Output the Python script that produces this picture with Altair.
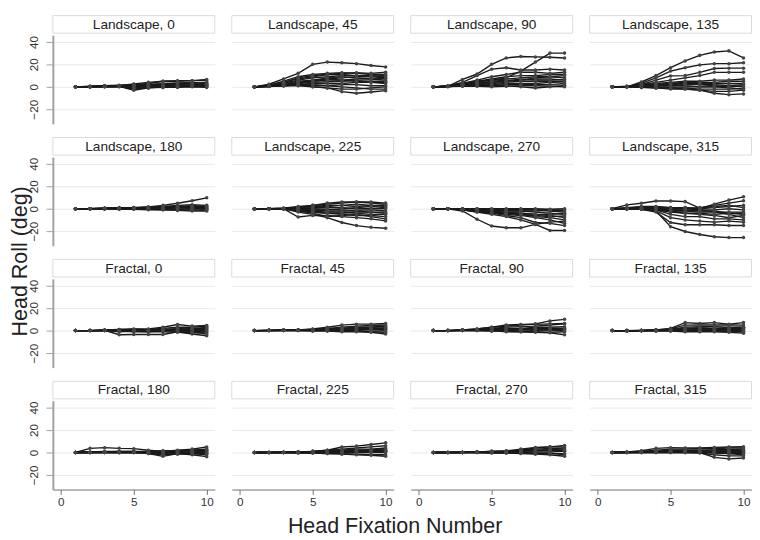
import altair as alt
import pandas as pd

FIXATION = list(range(1, 11))
PANEL_LABELS = [
    "Landscape, 0", "Landscape, 45", "Landscape, 90", "Landscape, 135",
    "Landscape, 180", "Landscape, 225", "Landscape, 270", "Landscape, 315",
    "Fractal, 0", "Fractal, 45", "Fractal, 90", "Fractal, 135",
    "Fractal, 180", "Fractal, 225", "Fractal, 270", "Fractal, 315",
]
Y_TICKS = [-20, 0, 20, 40]
X_TICKS = [0, 5, 10]

LAND_0 = [
    [0, 0.5, 1, 1, 2, 3, 5, 5, 5.5, 6.5],
    [0, 0.3, 0.8, 1, 2.5, 4, 5, 5.5, 5.5, 5.5],
    [0, 0.2, 0.5, 0.5, -3, -1, 0, 0, 1, 2],
    [0, 0, 0.3, 0.5, -2, -1, -0.5, 0, 0.5, 0],
    [0, 0.2, 0.5, 1, 1, 1.5, 2, 2, 3, 4],
    [0, 0.1, 0.5, 0.8, 0.5, 1, 1, 1.5, 2, 2.5],
    [0, 0, 0.2, 0.3, 0, 0.5, 0.5, 1, 1, 1],
    [0, -0.2, 0, 0, -1, 0, -0.5, -0.5, 0, -0.5],
    [0, 0.3, 1, 1.5, 2, 2, 3, 3.5, 4, 3],
    [0, 0.1, 0.3, 0.5, -1.5, -0.5, 0, 1, 1, 1.5],
    [0, 0.2, 0.6, 1, 1.2, 2, 2.5, 3, 2.5, 2],
    [0, 0, 0.1, 0.2, 0.5, 0.2, 0.8, 0.5, 0.5, 0.3],
]
LAND_45 = [
    [0, 2.3, 7, 12, 20, 22, 21.4, 20.6, 19, 17.7],
    [0, 1.5, 5, 9, 11, 12, 12.5, 12, 11, 11],
    [0, 1, 4, 7, 9, 11, 12, 12.5, 12, 13],
    [0, 1, 3, 6, 8, 9, 10, 10, 9.5, 10],
    [0, 1, 3, 5, 6, 7, 8, 9, 9, 8],
    [0, 0.5, 2, 4, 5, 6, 6, 7, 7, 6],
    [0, 0.5, 2, 3, 4, 4.5, 5, 5.5, 5, 5],
    [0, 0.5, 1.5, 2, 3, 3, 3, 4, 4, 3],
    [0, 0.5, 1, 1.5, 1, 1, 2, 2, 1, 1],
    [0, 0.3, 1, 1, 0, -1, -2, -2, -1, 0],
    [0, 0.5, 1.5, 2, 0, -1, -4.3, -5.7, -4.6, -3.4],
    [0, 0.5, 2, 4, 6, 8, 9, 8, 7, 7.5],
    [0, 0.5, 1, 3, 5, 7, 6, 5, 4, 4],
    [0, 0.5, 1, 2, 2, 1, 0, -1, -2, -2],
    [0, 1, 4, 8, 10, 11, 11, 10, 10, 9],
]
LAND_90 = [
    [0, 0.5, 6.6, 11.4, 20, 25.7, 27, 26.6, 26.3, 25.7],
    [0, 0.5, 2, 5, 6, 8, 14, 22, 30, 30],
    [0, 1, 4, 10, 15.7, 17, 15, 15, 15.7, 15],
    [0, 0.5, 3, 6, 9, 11, 13, 13, 12, 13],
    [0, 0.5, 3, 5, 7, 9, 10, 10, 11, 11],
    [0, 0.5, 2, 4, 6, 7, 8, 9, 9, 8],
    [0, 0.3, 2, 3, 5, 6, 6, 7, 7, 6],
    [0, 0.3, 1, 2, 3, 4, 5, 5, 5, 4.5],
    [0, 0.3, 1, 2, 2, 3, 3, 3, 4, 3],
    [0, 0.2, 1, 1, 1, 2, 2, 2, 2, 1.5],
    [0, 0.2, 0.5, 0.5, 0, 0.5, 1, 1, 0.5, 0],
    [0, 0.5, 2, 3, 4, 5, 6, 8, 9, 10],
    [0, 0.5, 1.5, 3, 4, 5, 7, 6, 6, 6.5],
    [0, 0.3, 1, 1.5, 2, 1, 0, -1, 0, 1],
]
LAND_135 = [
    [0, 0, 4.3, 10, 17, 23, 28, 31, 32, 25.7],
    [0, 0, 3, 8, 14, 17, 19.5, 20.6, 20.6, 21.4],
    [0, 0.5, 2, 6, 9.7, 10, 12.9, 16.3, 16.6, 16.6],
    [0, 0.3, 2, 4, 6, 8, 10, 12.9, 12.9, 12.9],
    [0, 0.3, 1.5, 3, 4, 5, 5, 6, 6, 7],
    [0, 0.2, 1, 2, 3, 4, 4, 4, 5, 5],
    [0, 0.2, 1, 1, 2, 3, 3, 3, 3, 3],
    [0, 0, 0.5, 1, 1, 2, 2, 2, 1, 2],
    [0, 0, 0, 0, 0, 0, 0, 0, 1, 0],
    [0, 0, -0.5, -1, -1, -1, -2, -2, -2, -1.5],
    [0, 0, 0, -1, -1, -2, -3, -4, -4, -3],
    [0, 0, -0.5, -1, -2, -2, -3, -5.7, -7, -6.3],
    [0, 0, 1, 2, 2, 1, 0, 0, -1, -2],
    [0, 0.3, 1, 2, 3, 3, 2, 1, 0, 1],
]
LAND_180 = [
    [0, 0, 0.5, 0.5, 1, 1.5, 3, 4.9, 7.1, 9.7],
    [0, 0, 0.5, 1, 1, 1.5, 2, 3, 3.5, 3],
    [0, 0, 0.3, 0.5, 0.5, 1, 1.5, 2, 2, 2],
    [0, 0, 0.2, 0.3, 0.5, 0.5, 1, 1, 1.5, 1],
    [0, 0, 0, 0, 0, 0, 0, 0.5, 0.5, 0],
    [0, 0, -0.2, -0.3, -0.5, -0.5, -1, -1, -1, -1.5],
    [0, 0, -0.2, -0.5, -0.5, -1, -1, -1.5, -2, -2],
    [0, 0, 0.2, 0.5, 0.5, 0.5, 0.5, 1, 1, 0.5],
    [0, 0, 0, 0.2, 0.3, 0.2, -0.5, -0.5, 0, -0.5],
    [0, 0, 0.3, 0.5, 0.8, 1, 1.5, 1.5, 2.5, 2],
]
LAND_225 = [
    [0, 0, 0, -3, -5, -8, -12.3, -15, -16.6, -17.4],
    [0, 0, 0, -7.4, -6, -6, -7, -8, -9, -10.9],
    [0, 0, 0.5, 2, 3, 4, 5, 6, 6, 5],
    [0, 0, 0.5, 1, 3, 5, 6, 6, 5, 4],
    [0, 0, 0, 1, 2, 3, 3, 4, 3, 2],
    [0, 0, 0, 0, 1, 1, 1, 0, 0, 0],
    [0, 0, 0, -1, -1, -2, -2, -2, -3, -3],
    [0, 0, 0, -2, -3, -4, -5, -6, -6, -7],
    [0, 0, 0, -1, -2, -3, -3, -4, -5, -5],
    [0, 0, 0, 0, -1, -1, 0, 1, 2, 1],
    [0, 0, 0, -2, -4, -7, -6, -5, -7, -9],
    [0, 0, 0.3, 0.5, 0, -0.5, -1, -1.5, -1, -2],
    [0, 0, 0, -1, -3, -4, -4, -3, -3, -4],
    [0, 0, 0.2, 1, 2, 2, 3, 2, 3, 3],
]
LAND_270 = [
    [0, 0, -2, -9.4, -15.4, -17, -17, -14, -12, -11],
    [0, 0, -1, -3, -5, -7, -10, -14, -19.4, -19.4],
    [0, 0, -1, -2, -4, -6, -8, -12.3, -13, -15],
    [0, 0, -0.5, -2, -3, -5, -6, -8, -10, -13],
    [0, 0, -0.5, -1, -2, -3, -4, -5, -6, -8],
    [0, 0, -0.3, -1, -1, -2, -2, -3, -4, -5],
    [0, 0, 0, 0, -0.5, -1, -1, -1, -2, -3],
    [0, 0, 0, 0, 0, 0, 0, 0, -0.5, 0],
    [0, 0, -0.3, -0.5, -1, -1.5, -2, -2, -1.5, -1],
    [0, 0, -0.5, -2, -3, -4, -5, -6, -7, -6.5],
    [0, 0, -0.5, -1, -2, -4, -5, -7, -8, -10],
    [0, 0, -0.2, -0.5, -1, -1, -0.5, -1, -1, -2],
    [0, 0, -1, -3, -4, -4, -4, -5, -5, -4],
]
LAND_315 = [
    [0, 3.4, 4.9, 6.9, 6.9, 6.3, 0.6, 2, 3, 1],
    [0, 1, 2, 2, 1, 1, 0, 4, 7.7, 10.6],
    [0, 0.5, 1, 1, 0, 0, 1, 3, 5, 7],
    [0, 0, -0.5, -2, -16, -20.3, -23, -25, -25.7, -25.7],
    [0, 0, -0.5, -3, -12.3, -14.3, -14.3, -14.3, -15, -15],
    [0, 0, 0, -2, -8, -10, -11, -12, -11, -12],
    [0, 0, 0, -1, -5, -7, -7, -9, -9, -10],
    [0, 0, 0, -1, -3, -4, -5, -6, -8, -6],
    [0, 0, 0, 0, -1, -2, -3, -3, -3, -3],
    [0, 0, 0.5, 0.5, 0, 0, -1, -1, 0, -1],
    [0, 0.5, 1, 1.5, 1, 1, 0, 1, 2, 3],
    [0, 0, 0, -1, -2, -2, -1, -3, -5, -8],
    [0, 0, 0.5, 0, -1, -1, -2, -2, -4, -4],
    [0, 0, 0, -0.5, -2, -4, -4, -5, -4, -5],
]
FRAC_0 = [
    [0, 0, 0.5, 1, 1, 1.5, 3, 5.4, 4, 4.5],
    [0, 0, 0.3, -3.7, -3.5, -3.5, -3.5, -1, -3, -4.6],
    [0, 0, 0.3, 0.5, 1, 1, 2, 3, 3, 4],
    [0, 0, 0.2, 0, 0.5, 0.5, 1, 1, 2, 2],
    [0, 0, 0, 0, 0, 0, 0, 0, 0.5, 0],
    [0, 0, 0, -0.5, -1, -1, -1, -1.5, -2, -2],
    [0, 0, 0, 1, 1.5, 1, 0.5, 2, 1, 1],
    [0, 0, 0.2, -1, -0.5, -1, 0, 0, -1, -1],
    [0, 0, 0.3, 0.5, 1, 0.5, 1, 1, 1.5, 3],
    [0, 0, 0, 0.5, 0.5, 0, 0, -0.5, -1, -3],
]
FRAC_45 = [
    [0, 0.3, 0.5, 0.5, 1.5, 3, 4.9, 5.7, 5.7, 6.3],
    [0, 0.2, 0.5, 0.5, 1, 2, 3, 4, 4.5, 5],
    [0, 0.2, 0.3, 0.5, 1, 1.5, 2, 3, 3, 3.5],
    [0, 0, 0.2, 0.3, 0.5, 1, 1, 2, 2, 2],
    [0, 0, 0, 0, 0, 0.5, 0.5, 1, 1, 1],
    [0, 0, 0, 0, 0, 0, 0, 0, -0.5, 0],
    [0, 0, 0, 0, -0.5, -0.5, -1, -1, -1.5, -3],
    [0, 0, 0.2, 0.3, 0.5, 0.5, 0, -0.5, -1, -1.5],
    [0, 0.2, 0.3, 0.5, 1, 1.5, 2, 2.5, 3, 4],
    [0, 0, 0.3, 0.5, 0.5, 1, 1.5, 1, 1.5, 2.5],
]
FRAC_90 = [
    [0, 0, 0.5, 1.5, 3, 4, 5, 6, 8.6, 10],
    [0, 0, 0.5, 1.5, 3, 5, 5.5, 5.5, 6, 6.3],
    [0, 0, 0.5, 1, 2, 3, 3.5, 4, 5, 6],
    [0, 0, 0.3, 1, 1.5, 2, 2, 3, 3, 3.4],
    [0, 0, 0.2, 0.5, 1, 1, 1.5, 2, 2, 2],
    [0, 0, 0, 0, 0, 0, 0.5, 0.5, 1, 0.5],
    [0, 0, 0, 0, -0.5, -0.5, -1, -1, -1.5, -1],
    [0, 0, 0, 0, 0, -1, -1, -1.5, -2, -3.7],
    [0, 0, 0.3, 0.5, 1, 1.5, 1, 1, 1, 1.5],
    [0, 0, 0.2, 0.5, 0.5, 1, 1, 0.5, 0.5, 0],
]
FRAC_135 = [
    [0, -0.5, 0, 0.5, 2, 7.1, 6.3, 7.1, 5.7, 7.1],
    [0, -0.3, 0, 0.5, 1.5, 4.9, 5, 5, 5, 4.9],
    [0, 0, 0, 0.5, 1, 3, 3.5, 3.5, 3, 3],
    [0, 0, 0.3, 0.5, 1, 1.5, 2, 2, 2, 2],
    [0, 0, 0, 0, 0.5, 0.5, 1, 1, 1, 1],
    [0, 0, 0, 0, 0, 0, 0, 0, 0, 0.5],
    [0, 0, -0.3, -0.5, -0.5, -1, -1, -1, -1.5, -2.3],
    [0, 0, 0, 0.3, 0.5, 0.5, 0, -0.5, -0.5, -1],
    [0, -0.2, 0, 0.5, 1, 2, 2.5, 2, 2.5, 3],
    [0, 0, 0, 0, 0, -0.5, -0.5, 0, 0, -0.5],
]
FRAC_180 = [
    [0, 3.7, 4.3, 3.7, 3.4, 2, 1, 1.5, 2, 2.5],
    [0, 0.5, 1, 1, 1, 0, -1, 0, 0.5, 1],
    [0, 0, 0, 0, 0, -1, -3.4, -1, -1, -2],
    [0, 0, 0.5, 0.5, 0.5, 0, 0, 1, 1.5, 2],
    [0, 0, 0, 0, 0, -0.5, -1, -1, -2, -3.7],
    [0, 0, 0.3, 0.5, 0.5, 0.5, 1, 2, 3, 4.9],
    [0, 0, 0, 0, 0, 0, -0.5, 0, 0, 0],
    [0, 0, 0.2, 0.2, 0.5, -1, -2, -1.5, -1, -1],
    [0, 0.3, 0.5, 1, 1, 1, 1.5, 1.5, 2, 3],
    [0, 0, 0, -0.2, 0, -0.5, -1, -0.5, 0, -1],
]
FRAC_225 = [
    [0, 0, 0, 0.5, 1, 2, 4.9, 5.7, 7.1, 8.6],
    [0, 0, 0.3, 0.5, 1, 2, 3, 4, 5, 6],
    [0, 0, 0.2, 0.5, 1, 1.5, 2, 3, 3, 4],
    [0, 0, 0, 0.3, 0.5, 1, 1, 1.5, 2, 2],
    [0, 0, 0, 0, 0, 0.5, 0.5, 0.5, 1, 1],
    [0, 0, 0, 0, 0, 0, 0, 0, 0, 0],
    [0, 0, 0, -0.5, -0.5, -1, -1, -1.5, -2, -2],
    [0, 0, 0, -0.3, -0.5, -1, -1.5, -2, -2.5, -3.4],
    [0, 0, 0.2, 0.5, 0.5, 1, 1.5, 2, 2.5, 3],
    [0, 0, 0, 0, 0.3, 0.5, 0.5, 1, 0.5, 1],
]
FRAC_270 = [
    [0, 0, 0, 0.5, 1, 1, 2, 4, 5, 6.3],
    [0, 0, 0, 0.5, 1, 1.5, 3, 4.5, 5, 5],
    [0, 0, 0.2, 0.5, 0.5, 1, 2, 3, 3.5, 4],
    [0, 0, 0, 0.3, 0.5, 0.5, 1, 1.5, 2, 2],
    [0, 0, 0, 0, 0, 0, 0.5, 0.5, 0.5, 1],
    [0, 0, 0, 0, -0.5, -0.5, -0.5, -1, -1, -1],
    [0, 0, 0, 0, -0.3, -0.5, -1, -1.5, -2, -3.4],
    [0, 0, 0, 0.2, 0, 0, 0, -0.5, -0.5, -2],
    [0, 0, 0.2, 0.5, 1, 1, 1.5, 2, 2.5, 3],
]
FRAC_315 = [
    [0, 0.5, 1.5, 3.7, 4.3, 4, 4, 4.5, 4.9, 5.1],
    [0, 0.3, 1, 2, 3, 3, 3.5, 3.5, 4, 4],
    [0, 0.2, 0.5, 1, 2, 2, 2, 2.5, 2.5, 3],
    [0, 0, 0.5, 1, 1, 1, 1, 1.5, 1.5, 2],
    [0, 0, 0, 0.5, 0.5, 0.5, 0.5, 0, 0, 0],
    [0, 0, 0, 0, 0, 0, 0, -0.5, -1, -1],
    [0, 0, 0, 0, 0, 0, 0, -4.3, -5.7, -4.9],
    [0, 0, 0, 0, 0, 0, -0.5, -2, -3, -3],
    [0, 0.2, 0.5, 1, 1.5, 1.5, 2, 1, 1, 1],
    [0, 0, 0.3, 0.5, 1, 1, 1, 0, -1, -2],
]

PANEL_DATA = [
    LAND_0, LAND_45, LAND_90, LAND_135,
    LAND_180, LAND_225, LAND_270, LAND_315,
    FRAC_0, FRAC_45, FRAC_90, FRAC_135,
    FRAC_180, FRAC_225, FRAC_270, FRAC_315,
]

records = []
for label, lines in zip(PANEL_LABELS, PANEL_DATA):
    for subj, ys in enumerate(lines):
        for fix, roll in zip(FIXATION, ys):
            records.append({"panel": label, "subj": subj, "fix": fix, "roll": roll})
long_df = pd.DataFrame(records)

FONT = "Liberation Sans"
W, H = 166, 91
XSCALE = alt.Scale(domain=[-0.55, 10.55], nice=False, zero=False)
YSCALE = alt.Scale(domain=[-33, 46], nice=False, zero=False)


def make_panel(idx):
    label = PANEL_LABELS[idx]
    r, c = divmod(idx, 4)
    left = c == 0
    bottom = r == 3
    d = long_df[long_df["panel"] == label]
    yax = alt.Axis(
        values=Y_TICKS, title=None, grid=True, gridColor="#e8e8e8", gridWidth=1,
        domain=left, labels=left, ticks=left,
        domainColor="#a0a0a0", domainWidth=2, tickColor="#a0a0a0", tickWidth=1,
        tickSize=7, labelAngle=270, labelFontSize=12, labelFont=FONT,
        labelColor="#333333", labelPadding=6,
    )
    if bottom:
        xax = alt.Axis(
            values=X_TICKS, title=None, grid=False, domainColor="#707070",
            domainWidth=1, tickColor="#707070", tickSize=5, labelFontSize=12,
            labelFont=FONT, labelColor="#333333", labelPadding=2, labelAngle=0,
        )
    else:
        xax = None
    ex = alt.X("fix:Q", scale=XSCALE, axis=xax)
    ey = alt.Y("roll:Q", scale=YSCALE, axis=yax)
    lines = alt.Chart(d).mark_line(color="#1a1a1a", strokeWidth=1.4).encode(
        x=ex, y=ey, detail="subj:N")
    pts = alt.Chart(d).mark_circle(size=13, color="#444444", opacity=1).encode(
        x=ex, y=ey)
    sdf = pd.DataFrame({"label": [label]})
    strip = alt.Chart(sdf).mark_rect(fill="white", stroke="#dadada", strokeWidth=1).encode(
        x=alt.value(0), x2=alt.value(W), y=alt.value(-20), y2=alt.value(-2))
    txt = alt.Chart(sdf).mark_text(font=FONT, fontSize=14, color="#222222",
                                   align="center", baseline="middle").encode(
        x=alt.value(W / 2), y=alt.value(-10.5), text="label:N")
    return alt.layer(strip, txt, lines, pts).properties(width=W, height=H)


rows = [alt.hconcat(*[make_panel(r * 4 + c) for c in range(4)], spacing=15.5) for r in range(4)]
grid = alt.vconcat(*rows, spacing=13)

ytitle_df = pd.DataFrame({"t": ["Head Roll (deg)"]})
ytitle = alt.Chart(ytitle_df).mark_text(
    angle=270, fontSize=22, font=FONT, color="#222222", align="center", baseline="top"
).encode(x=alt.value(1), y=alt.value(232), text="t:N").properties(width=1, height=460)

chart = alt.hconcat(ytitle, grid, spacing=-4).properties(
    padding={"left": 0, "top": 0, "right": 0, "bottom": 0},
    title=alt.TitleParams(
        text="Head Fixation Number", orient="bottom", anchor="middle", fontSize=22,
        font=FONT, fontWeight="normal", color="#222222", offset=10, dx=15,
    ),
).configure(
    font=FONT,
    padding={"left": 0, "top": 0, "right": 0, "bottom": 0},
    view=alt.ViewConfig(stroke="transparent", strokeWidth=0),
)

chart.save("out.html", embed_options={"renderer": "svg", "actions": False})
